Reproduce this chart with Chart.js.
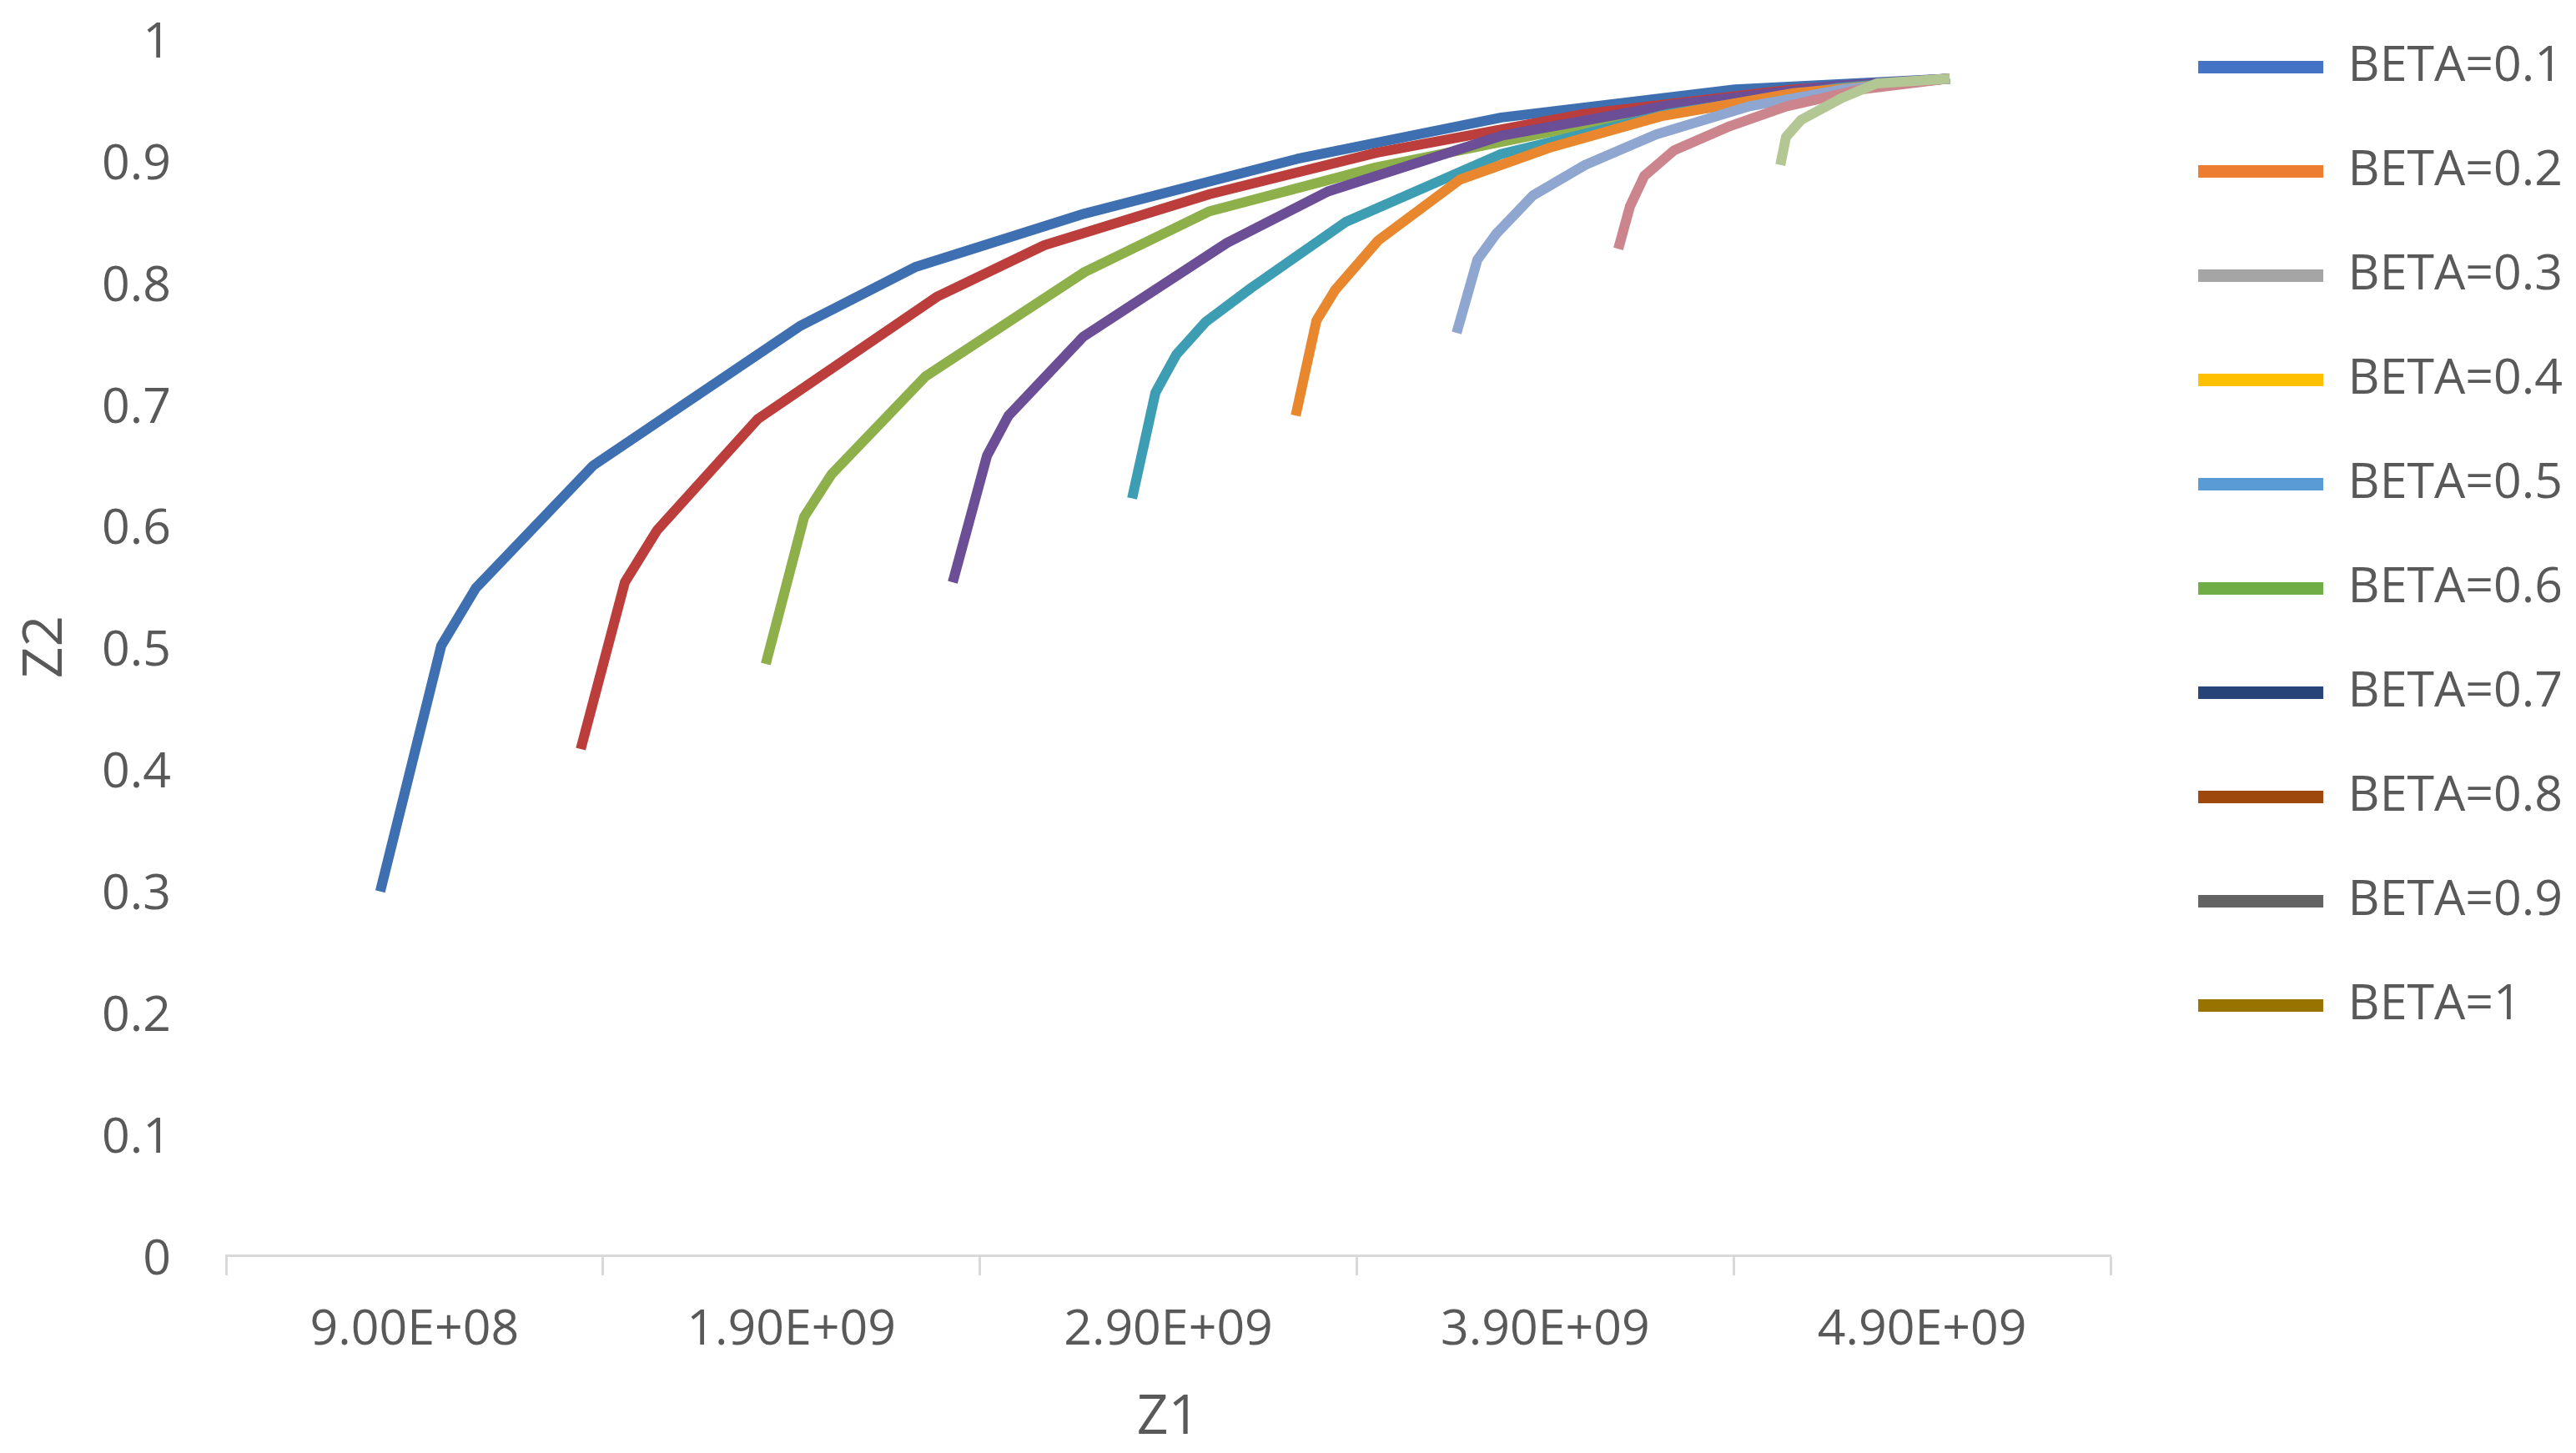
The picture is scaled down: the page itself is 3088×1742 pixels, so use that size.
<!DOCTYPE html>
<html>
<head>
<meta charset="utf-8">
<script src="https://cdn.jsdelivr.net/npm/chart.js@4.4.0/dist/chart.umd.min.js"></script>
<style>
html,body{margin:0;padding:0;background:#ffffff;}
#wrap{width:3088px;height:1742px;}
</style>
</head>
<body>
<div id="wrap"><canvas id="c" width="3088" height="1742"></canvas></div>
<script>
// ---- data (Z1, Z2) per BETA ----
const seriesNames = ['BETA=0.1','BETA=0.2','BETA=0.3','BETA=0.4','BETA=0.5','BETA=0.6','BETA=0.7','BETA=0.8','BETA=0.9','BETA=1'];

const z1_b01 = [8.09e8, 9.71e8, 1.062e9, 1.374e9, 1.925e9, 2.228e9, 2.678e9, 3.242e9, 3.784e9, 4.404e9, 4.973e9];
const z2_b01 = [0.299, 0.501, 0.548, 0.649, 0.764, 0.812, 0.856, 0.901, 0.935, 0.958, 0.967];

const z1_b02 = [1.341e9, 1.458e9, 1.544e9, 1.810e9, 2.288e9, 2.571e9, 3.010e9, 3.452e9, 4.006e9, 4.559e9, 4.973e9];
const z2_b02 = [0.416, 0.553, 0.596, 0.687, 0.788, 0.830, 0.872, 0.906, 0.938, 0.958, 0.967];

const z1_b03 = [1.832e9, 1.934e9, 2.007e9, 2.255e9, 2.678e9, 3.010e9, 3.452e9, 4.006e9, 4.559e9, 4.973e9];
const z2_b03 = [0.486, 0.607, 0.642, 0.722, 0.808, 0.858, 0.894, 0.929, 0.954, 0.967];

const z1_b04 = [2.328e9, 2.419e9, 2.476e9, 2.675e9, 3.056e9, 3.322e9, 3.784e9, 4.227e9, 4.670e9, 4.973e9];
const z2_b04 = [0.553, 0.657, 0.690, 0.755, 0.832, 0.874, 0.920, 0.945, 0.961, 0.967];

const z1_b05 = [2.804e9, 2.866e9, 2.921e9, 2.999e9, 3.120e9, 3.370e9, 3.784e9, 4.227e9, 4.670e9, 4.973e9];
const z2_b05 = [0.622, 0.709, 0.740, 0.767, 0.795, 0.849, 0.905, 0.938, 0.959, 0.967];

const z1_b06 = [3.238e9, 3.293e9, 3.342e9, 3.457e9, 3.674e9, 3.910e9, 4.207e9, 4.559e9, 4.973e9];
const z2_b06 = [0.690, 0.768, 0.793, 0.834, 0.884, 0.910, 0.936, 0.955, 0.967];

const z1_b07 = [3.665e9, 3.720e9, 3.769e9, 3.868e9, 4.006e9, 4.194e9, 4.439e9, 4.687e9, 4.973e9];
const z2_b07 = [0.758, 0.818, 0.839, 0.871, 0.896, 0.921, 0.944, 0.958, 0.967];

const z1_b08 = [4.094e9, 4.125e9, 4.163e9, 4.242e9, 4.391e9, 4.539e9, 4.736e9, 4.973e9];
const z2_b08 = [0.827, 0.862, 0.887, 0.908, 0.928, 0.944, 0.958, 0.967];

const z1_b09 = [4.524e9, 4.539e9, 4.579e9, 4.687e9, 4.780e9, 4.973e9];
const z2_b09 = [0.896, 0.919, 0.933, 0.951, 0.963, 0.967];

const z1_b10 = [4.973e9];
const z2_b10 = [0.967];

// axis ticks
const xTickValues = [4e8, 9e8, 1.4e9, 1.9e9, 2.4e9, 2.9e9, 3.4e9, 3.9e9, 4.4e9, 4.9e9, 5.4e9];
const xLabelValues = [9e8, 1.9e9, 2.9e9, 3.9e9, 4.9e9];
const yTickValues = [0, 0.1, 0.2, 0.3, 0.4, 0.5, 0.6, 0.7, 0.8, 0.9, 1];

// colours
const lineColors = ['#3E6FB0','#BB3E3C','#8DB04A','#6B4E96','#3C9DB3','#E8872E','#8FA6D0','#CC858C','#B3C795','#A5A5A5'];
const legendColors = ['#4472C4','#ED7D31','#A5A5A5','#FFC000','#5B9BD5','#70AD47','#264478','#9E480E','#636363','#997300'];

const allZ1 = [z1_b01,z1_b02,z1_b03,z1_b04,z1_b05,z1_b06,z1_b07,z1_b08,z1_b09,z1_b10];
const allZ2 = [z2_b01,z2_b02,z2_b03,z2_b04,z2_b05,z2_b06,z2_b07,z2_b08,z2_b09,z2_b10];

const FONT = '"Open Sans", "Noto Sans", sans-serif';
const TXT = '#595959';
const FS = 59;
const PLOT_RIGHT = 2530;
const PAD_R = 6;

function isLabelValue(v){ return xLabelValues.some(l => Math.abs(l - v) < 1); }
function sci(v){
  const e = Math.floor(Math.log10(v));
  const m = v / Math.pow(10, e);
  return m.toFixed(2) + 'E+' + String(e).padStart(2,'0');
}

const datasets = seriesNames.map((name, i) => ({
  label: name,
  data: allZ1[i].map((x, k) => ({x: x, y: allZ2[i][k]})),
  borderColor: lineColors[i],
  backgroundColor: lineColors[i],
  borderWidth: 12,
  borderJoinStyle: 'round',
  borderCapStyle: 'butt',
  pointRadius: 0,
  pointHoverRadius: 0,
  showLine: true,
  fill: false,
  tension: 0,
  order: seriesNames.length - i
}));

new Chart(document.getElementById('c').getContext('2d'), {
  type: 'scatter',
  data: { datasets: datasets },
  options: {
    responsive: false,
    animation: false,
    devicePixelRatio: 1,
    layout: { padding: { left: 0, right: PAD_R, top: -15, bottom: 0 } },
    plugins: {
      tooltip: { enabled: false },
      title: { display: true, text: '', fullSize: false, position: 'top', padding: { top: 60, bottom: 0 }, font: { size: 1, lineHeight: 1 } },
      legend: {
        position: 'right',
        align: 'start',
        labels: {
          boxWidth: 150,
          boxHeight: 15,
          padding: 66,
          color: TXT,
          font: { family: FONT, size: FS },
          generateLabels: () => seriesNames.map((t, i) => ({
            text: t, fillStyle: legendColors[i], strokeStyle: legendColors[i],
            lineWidth: 0, hidden: false, datasetIndex: i, fontColor: TXT
          }))
        }
      }
    },
    scales: {
      x: {
        type: 'linear',
        min: 4e8, max: 5.4e9,
        afterBuildTicks: ax => { ax.ticks = xTickValues.map(v => ({ value: v })); },
        afterFit: s => { s.height = 237; },
        border: { display: true, color: '#D9D9D9', width: 3 },
        grid: {
          display: true, drawOnChartArea: false, drawTicks: true, tickLength: 24, tickWidth: 3,
          tickColor: c => (c.tick && isLabelValue(c.tick.value)) ? 'rgba(0,0,0,0)' : '#D9D9D9'
        },
        ticks: {
          autoSkip: false, maxRotation: 0, minRotation: 0, padding: 31, color: TXT,
          font: { family: FONT, size: FS },
          callback: v => isLabelValue(v) ? sci(v) : ''
        },
        title: { display: true, text: 'Z1', color: TXT, font: { family: FONT, size: 66 }, padding: { top: 0, bottom: 2 } }
      },
      y: {
        type: 'linear',
        min: 0, max: 1,
        afterBuildTicks: ax => { ax.ticks = yTickValues.map(v => ({ value: v })); },
        afterFit: s => { s.width = 271; s.paddingTop = 0; s.paddingBottom = 0; },
        border: { display: false },
        grid: { display: false, drawTicks: false },
        ticks: { padding: 66, labelOffset: 6, color: TXT, font: { family: FONT, size: FS }, callback: v => String(Math.round(v * 10) / 10) },
        title: { display: true, text: 'Z2', color: TXT, font: { family: FONT, size: 66 }, padding: { top: 16, bottom: 0 } }
      },
      yR: {
        type: 'linear',
        position: 'right',
        display: true,
        border: { display: false },
        grid: { display: false, drawTicks: false },
        ticks: { display: false },
        afterFit: s => {
          const lg = s.chart.legend;
          s.paddingTop = 0; s.paddingBottom = 0;
          s.width = Math.max(0, s.chart.width - PAD_R - (lg ? lg.width : 0) - PLOT_RIGHT);
        }
      }
    }
  }
});
</script>
</body>
</html>
